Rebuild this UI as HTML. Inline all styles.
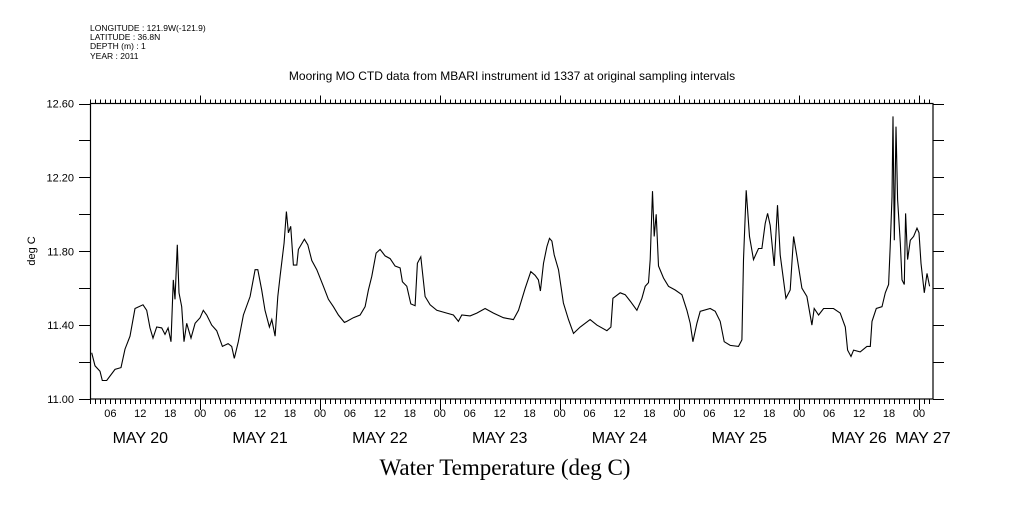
<!DOCTYPE html>
<html><head><meta charset="utf-8"><style>
body{margin:0;background:#fff;width:1009px;height:504px;overflow:hidden}
svg text{font-family:"Liberation Sans",sans-serif;fill:#000}
</style></head><body>
<svg id="chart" width="1009" height="504" viewBox="0 0 1009 504" xmlns="http://www.w3.org/2000/svg">
<g font-size="8.5">
<text x="90" y="31">LONGITUDE : 121.9W(-121.9)</text>
<text x="90" y="40">LATITUDE : 36.8N</text>
<text x="90" y="49">DEPTH (m) : 1</text>
<text x="90" y="59">YEAR : 2011</text>
</g>
<text x="512" y="80" font-size="12" text-anchor="middle">Mooring MO CTD data from MBARI instrument id 1337 at original sampling intervals</text>
<text x="505" y="475" font-size="23" text-anchor="middle" style="font-family:'Liberation Serif',serif">Water Temperature (deg C)</text>
<text x="0" y="0" font-size="11" text-anchor="middle" transform="translate(35,251) rotate(-90)">deg C</text>
<g id="axes"></g>
<g id="series"></g>
</svg>
<script>
const hours=[2.26,2.93,3.93,4.39,5.27,6.93,8.14,8.94,9.94,10.94,12.55,13.29,13.95,14.55,15.29,16.29,16.95,17.56,18.16,18.62,18.96,19.42,19.76,20.30,20.76,21.30,22.16,22.97,23.97,24.63,25.31,26.31,27.31,28.44,29.58,30.32,30.84,31.64,32.65,33.99,34.99,35.53,36.33,36.99,37.86,38.34,39.0,39.54,40.0,40.8,41.26,41.66,42.14,42.67,43.35,43.67,44.87,45.55,46.35,47.35,48.68,49.68,50.68,51.68,52.89,53.37,54.69,56.03,57.03,57.70,58.38,59.24,60.04,61.04,62.04,63.05,64.05,64.51,65.39,66.19,67.05,67.52,68.2,69.06,70.06,71.40,73.41,74.73,75.73,76.41,78.08,79.42,81.08,82.75,84.75,86.75,87.76,89.10,90.24,91.10,91.76,92.16,92.77,93.45,93.97,94.45,94.91,95.77,96.77,97.78,98.78,100.12,102.12,103.47,105.47,106.27,106.67,108.14,109.14,110.14,111.48,112.48,113.15,113.81,114.15,114.61,114.95,115.35,115.81,116.81,117.82,119.16,120.50,121.50,122.16,122.71,123.51,124.17,126.17,127.17,128.18,128.98,130.18,131.84,132.52,132.85,133.39,134.05,134.85,135.85,136.53,137.19,137.66,138.20,139.0,139.66,140.2,140.86,141.34,142.20,142.87,143.55,144.55,145.55,146.55,147.01,147.88,148.88,150.88,152.22,153.23,153.69,154.37,154.89,156.23,157.57,158.24,158.58,159.44,160.58,161.24,161.90,162.24,162.59,162.79,163.05,163.39,163.71,164.25,164.59,165.05,165.31,165.71,166.25,166.91,167.60,168.0,168.40,169.06,169.60,170.12];
const temps=[11.25,11.18,11.15,11.10,11.10,11.16,11.17,11.27,11.34,11.49,11.51,11.48,11.385,11.33,11.39,11.385,11.35,11.385,11.31,11.645,11.54,11.835,11.575,11.50,11.31,11.41,11.33,11.41,11.44,11.48,11.455,11.40,11.37,11.285,11.30,11.285,11.22,11.31,11.455,11.555,11.70,11.70,11.59,11.48,11.39,11.43,11.34,11.555,11.665,11.845,12.015,11.90,11.935,11.725,11.725,11.81,11.865,11.835,11.75,11.70,11.61,11.54,11.50,11.455,11.415,11.42,11.44,11.455,11.50,11.59,11.665,11.79,11.81,11.775,11.76,11.72,11.71,11.635,11.61,11.515,11.505,11.735,11.77,11.555,11.51,11.48,11.465,11.455,11.42,11.455,11.45,11.465,11.49,11.465,11.44,11.43,11.48,11.60,11.69,11.67,11.645,11.585,11.735,11.825,11.87,11.855,11.78,11.70,11.52,11.43,11.355,11.39,11.43,11.40,11.37,11.39,11.545,11.575,11.565,11.53,11.48,11.545,11.61,11.63,11.755,12.125,11.88,12.00,11.72,11.655,11.61,11.59,11.565,11.48,11.41,11.31,11.41,11.475,11.49,11.475,11.42,11.31,11.29,11.285,11.32,11.755,12.13,11.88,11.755,11.815,11.815,11.95,12.005,11.94,11.72,12.05,11.78,11.645,11.545,11.59,11.88,11.77,11.60,11.555,11.40,11.49,11.455,11.49,11.49,11.465,11.39,11.265,11.23,11.265,11.255,11.285,11.285,11.42,11.49,11.50,11.575,11.62,11.825,12.095,12.53,11.86,12.475,12.08,11.845,11.645,11.62,12.005,11.755,11.86,11.88,11.925,11.90,11.735,11.575,11.68,11.61];
const yTicks=[11.0,11.2,11.4,11.6,11.8,12.0,12.2,12.4,12.6];
const yLabels=["11.00","11.40","11.80","12.20","12.60"];
const hourLabels=["00","06","12","18"];
const dayLabels=["MAY 20","MAY 21","MAY 22","MAY 23","MAY 24","MAY 25","MAY 26","MAY 27"];
const L=90.5,R=933,T=103.5,B=399;
const xS=h=>80.4+h*119.8/24;
const yS=v=>B-(v-11)*(B-T)/1.6;
const NS='http://www.w3.org/2000/svg';
const ax=document.getElementById('axes');
function mk(tag,at,parent){const e=document.createElementNS(NS,tag);for(const k in at)e.setAttribute(k,at[k]);parent.appendChild(e);return e;}
const frame=mk('rect',{x:L,y:T,width:R-L,height:B-T,fill:'none',stroke:'#000','stroke-width':1.2},ax);


let d='';
for(let h=2;h<=170;h++){const x=Math.round(xS(h))+0.5;const maj=h%24===0;d+=`M${x} ${B}V${B+(maj?11:5)}M${x} ${T}V${T-(maj?8:4)}`;}
yTicks.forEach(v=>{const y=Math.round(yS(v))+0.5;d+=`M79 ${y}H${L}M${R} ${y}H944`;});
const tk=mk('path',{d:d,stroke:'#000','stroke-width':1,fill:'none'},ax);


yLabels.forEach(s=>{const t=mk('text',{x:74,y:yS(parseFloat(s))+4,'font-size':11,'text-anchor':'end'},ax);t.textContent=s;

});
for(let h=6;h<=168;h+=6){const t=mk('text',{x:xS(h),y:417,'font-size':11,'text-anchor':'middle'},ax);t.textContent=hourLabels[(h%24)/6];

}
dayLabels.forEach((s,i)=>{const h=i<7?i*24+12:170;const t=mk('text',{x:xS(h)-(i===7?6:0),y:443,'font-size':16,'text-anchor':'middle'},ax);t.textContent=s;

});
const pts=hours.map((h,i)=>xS(h).toFixed(1)+','+yS(temps[i]).toFixed(1)).join(' ');
const line=mk('polyline',{points:pts,fill:'none',stroke:'#000','stroke-width':1.1},document.getElementById('series'));


</script>
</body></html>
